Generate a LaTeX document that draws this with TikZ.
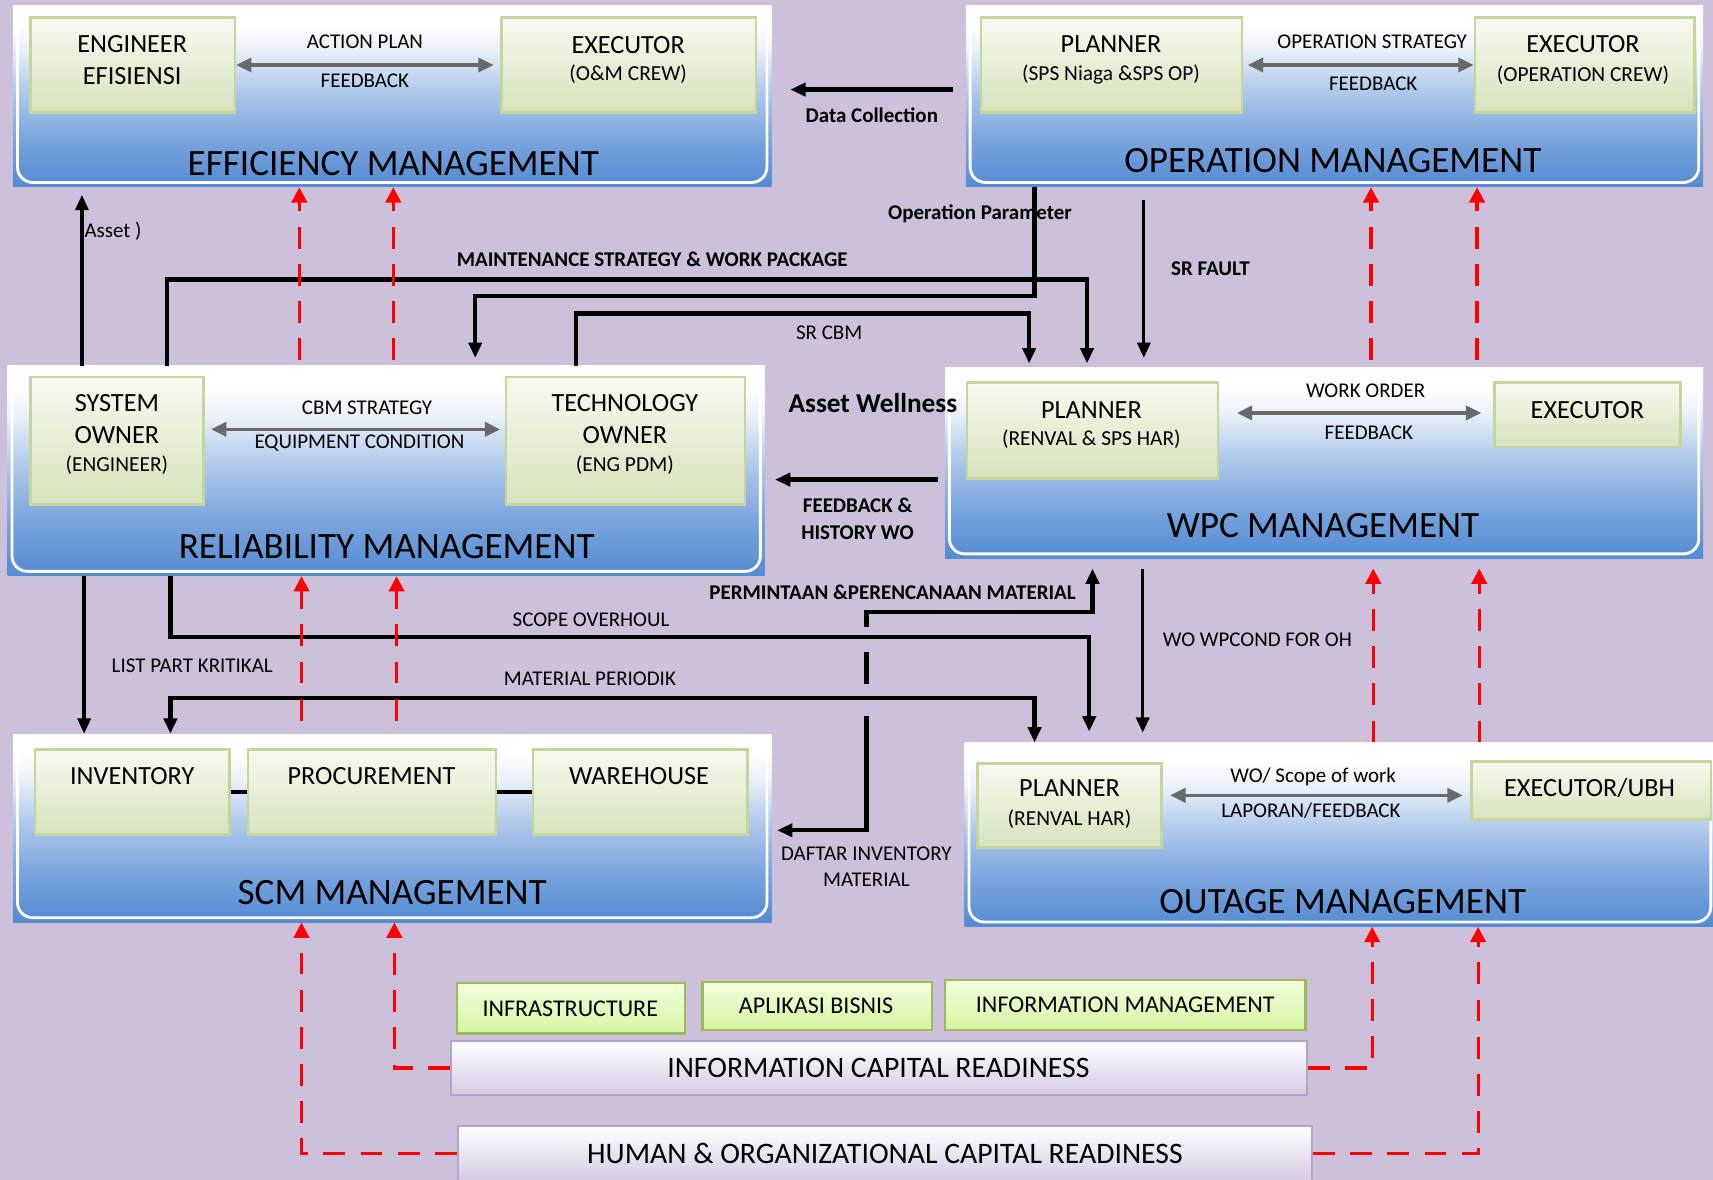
\documentclass[tikz,border=0pt]{standalone}
\usepackage{fontspec}
\setmainfont{Carlito}
\usetikzlibrary{arrows.meta,fit}

\definecolor{bg}{RGB}{204,192,218}
\definecolor{gblue}{RGB}{84,139,211}
\definecolor{gline}{RGB}{196,214,158}
\definecolor{gtop}{RGB}{247,250,240}
\definecolor{gbot}{RGB}{214,227,188}
\definecolor{lgtop}{RGB}{242,255,222}
\definecolor{lgbot}{RGB}{214,244,162}
\definecolor{lgline}{RGB}{155,187,89}
\definecolor{pbot}{RGB}{214,202,228}
\definecolor{pline}{RGB}{178,162,204}
\definecolor{arrgray}{RGB}{105,105,105}

\pgfdeclareverticalshading{grpshade}{100bp}{color(0bp)=(gblue); color(25bp)=(gblue); color(38bp)=(gblue!78!white); color(52bp)=(gblue!45!white); color(63bp)=(gblue!12!white); color(70bp)=(white); color(100bp)=(white)}

\newcommand{\subt}[1]{{\fontsize{9.8}{12}\selectfont #1}}

\tikzset{
  grp/.style={inner sep=0pt, shading=grpshade,
    path picture={\draw[white, line width=1.3pt, rounded corners=7pt]
      ([shift={(2pt,-2pt)}]path picture bounding box.north west) rectangle
      ([shift={(-2pt,2pt)}]path picture bounding box.south east);}},
  inbox/.style={inner sep=0pt, draw=gline, line width=1.2pt, top color=gtop, bottom color=gbot},
  lgbox/.style={inner sep=0pt, draw=lgline, line width=1pt, top color=lgtop, bottom color=lgbot},
  rbox/.style={inner sep=0pt, draw=pline, line width=1pt, top color=white, bottom color=pbot},
  itxt/.style={font=\fontsize{11}{13}\selectfont},
  rtxt/.style={font=\fontsize{13.6}{16}\selectfont},
  ttl/.style={font=\fontsize{17}{20}\selectfont},
  nm/.style={align=center, font=\fontsize{12}{14.5}\selectfont},
  lbl/.style={font=\fontsize{9.6}{12}\selectfont},
  lblb/.style={align=center, font=\bfseries\fontsize{9.6}{12}\selectfont},
  blk/.style={line width=2pt},
  mid/.style={line width=1.5pt, ->},
  rd/.style={red, line width=1.5pt, dash pattern=on 10pt off 7pt,
    >={Triangle[length=7pt,width=7pt]}, ->},
  gar/.style={arrgray, line width=1.5pt, >={Triangle[length=7pt,width=6.5pt]}, <->}
}

\begin{document}
\begin{tikzpicture}[x=0.5pt,y=-0.5pt,>={Triangle[length=7pt,width=6pt]}]
\useasboundingbox (0,0) rectangle (1568,1080);
\fill[bg] (0,0) rectangle (1568,1080);

% management blocks
\node[grp, fit={(12,5) (706,171)}] (eff) {};
\node[grp, fit={(884,5) (1559,171)}] (ops) {};
\node[grp, fit={(7,335) (700,527)}] (rel) {};
\node[grp, fit={(865,336) (1559,511)}] (wpc) {};
\node[grp, fit={(12,672) (706,844)}] (scm) {};
\node[grp, fit={(883,680) (1570,848)}] (out) {};

\node[ttl] (efft) at (360,150) {EFFICIENCY MANAGEMENT};
\node[ttl] (opst) at (1220,147) {OPERATION MANAGEMENT};
\node[ttl] (relt) at (354,500) {RELIABILITY MANAGEMENT};
\node[ttl] (wpct) at (1211,481) {WPC MANAGEMENT};
\node[ttl] (scmt) at (359,817) {SCM MANAGEMENT};
\node[ttl] (outt) at (1229,825) {OUTAGE MANAGEMENT};

% roles
\node[inbox, fit={(28,16) (215,103)}] (eng) {};
\node[inbox, fit={(459,16) (692,103)}] (oexe) {};
\node[inbox, fit={(898,16) (1137,103)}] (opl) {};
\node[inbox, fit={(1350,16) (1551,103)}] (oexc) {};
\node[inbox, fit={(28,345) (186,462)}] (sys) {};
\node[inbox, fit={(463,345) (682,462)}] (tec) {};
\node[inbox, fit={(885,350) (1115,438)}] (wpl) {};
\node[inbox, fit={(1368,350) (1538,409)}] (wex) {};
\node[inbox, fit={(32,686) (210,764)}] (inv) {};
\node[inbox, fit={(227,686) (454,764)}] (pro) {};
\node[inbox, fit={(488,686) (684,764)}] (wh) {};
\node[inbox, fit={(895,699) (1063,776)}] (opn) {};
\node[inbox, fit={(1347,697) (1566,750)}] (oux) {};

\node[nm] (engt) at (121,55) {ENGINEER\\EFISIENSI};
\node[nm] (oexet) at (575,55) {EXECUTOR\\[-2pt]\subt{(O\&M CREW)}};
\node[nm] (oplt) at (1017,55) {PLANNER\\[-2pt]\subt{(SPS Niaga \&SPS OP)}};
\node[nm] (oexct) at (1449,55) {EXECUTOR\\[-1.5pt]\subt{(OPERATION CREW)}};
\node[nm] (syst) at (107,398) {SYSTEM\\OWNER\\[-1.5pt]\subt{(ENGINEER)}};
\node[nm] (tect) at (572,398) {TECHNOLOGY\\OWNER\\[-1.5pt]\subt{(ENG PDM)}};
\node[nm] (wplt) at (999,389) {PLANNER\\[-2.5pt]\subt{(RENVAL \& SPS HAR)}};
\node[nm] (wext) at (1453,375) {EXECUTOR};
\node[nm] (invt) at (121,710) {INVENTORY};
\node[nm] (prot) at (340,710) {PROCUREMENT};
\node[nm] (wht) at (585,710) {WAREHOUSE};
\node[nm] (opnt) at (979,736) {PLANNER\\[-1pt]\subt{(RENVAL HAR)}};
\node[nm] (ouxt) at (1455,721) {EXECUTOR/UBH};

% inside the blocks
\draw[gar, shorten >=3pt] (eng) -- (oexe);
\node[lbl] (ap) at (334,38) {ACTION PLAN};
\node[lbl] (fb1) at (334,74) {FEEDBACK};
\draw[gar, shorten <=2pt] (opl) -- (oexc);
\node[lbl] (os) at (1256,38) {OPERATION STRATEGY};
\node[lbl] (fb2) at (1257,77) {FEEDBACK};
\draw[gar, shorten <=3pt, shorten >=2pt] (sys.east |- 0,393) -- (tec.west |- 0,393);
\node[lbl] (cs) at (336,373) {CBM STRATEGY};
\node[lbl] (ec) at (329,406) {EQUIPMENT CONDITION};
\draw[gar, shorten <=8pt, shorten >=5.5pt] (wpl.east |- 0,378) -- (wex.west |- 0,378);
\node[lbl] (wo1) at (1250,358) {WORK ORDER};
\node[lbl] (fb3) at (1253,396) {FEEDBACK};
\draw[gar, shorten <=3.5pt, shorten >=3.5pt] (opn.east |- 0,728) -- (oux.west |- 0,728);
\node[lbl] (sw) at (1202,711) {WO/ Scope of work};
\node[lbl] (lf) at (1200,742) {LAPORAN/FEEDBACK};
\draw[line width=1.5pt] (inv) -- (pro);
\draw[line width=1.5pt] (pro) -- (wh);

% readiness
\node[lgbox, fit={(418,900) (627,946)}] (infr) {};
\node[lgbox, fit={(643,899) (853,943)}] (apl) {};
\node[lgbox, fit={(865,897) (1195,943)}] (infm) {};
\node[rbox, fit={(413,953) (1196,1002)}] (icr) {};
\node[rbox, fit={(419,1031) (1201,1081)}] (hoc) {};
\node[itxt] (infrt) at (522,923) {INFRASTRUCTURE};
\node[itxt] (aplt) at (747,921) {APLIKASI BISNIS};
\node[itxt] (infmt) at (1030,920) {INFORMATION MANAGEMENT};
\node[rtxt] (icrt) at (804,978) {INFORMATION CAPITAL READINESS};
\node[rtxt] (hoct) at (810,1056) {HUMAN \& ORGANIZATIONAL CAPITAL READINESS};

% flows
\draw[blk, ->, shorten <=5.5pt, shorten >=8.5pt] (ops.west |- 0,82) -- (eff.east |- 0,82);
\node[lblb] (dc) at (798,105) {Data Collection};
\draw[mid, shorten >=3.5pt] (rel.north -| 75,0) -- (eff.south -| 75,0);
\node[lbl, anchor=west, inner sep=0pt] (as) at (77,212) {Asset )};
\node[lblb] (op) at (897,196) {Operation Parameter};
\draw[blk, ->, shorten >=3.5pt] (ops.south -| 947,0) |- (435,271) -- (rel.north -| 435,0);
\draw[blk, ->, shorten >=1.5pt] (rel.north -| 153,0) |- (995,256) -- (wpc.north -| 995,0);
\node[lblb] (ms) at (597,237) {MAINTENANCE STRATEGY \& WORK PACKAGE};
\draw[blk, ->, shorten >=1.5pt] (rel.north -| 527,0) |- (942,287) -- (wpc.north -| 942,0);
\node[lbl] (sc) at (759,305) {SR CBM};
\draw[mid, shorten <=6pt, shorten >=4pt] (ops.south -| 1047,0) -- (wpc.north -| 1047,0);
\node[lblb] (sf) at (1108,246) {SR FAULT};
\node[font=\bfseries\fontsize{12.5}{15}\selectfont] (aw) at (799,369) {Asset Wellness};
\draw[blk, ->, shorten <=3pt, shorten >=4.5pt] (wpc.west |- 0,439) -- (rel.east |- 0,439);
\node[lblb] (fh) at (785,475) {FEEDBACK \&\\HISTORY WO};
\draw[mid] (rel.south -| 77,0) -- (scm.north -| 77,0);
\node[lbl] (lp) at (176,609) {LIST PART KRITIKAL};
\draw[blk, <->, shorten <=2.5pt, shorten >=4.5pt] (scm.east |- 0,760) -| (793,560) -| (wpc.south -| 1000,0);
\fill[bg] (786,574) rectangle (800,597);
\fill[bg] (786,626) rectangle (800,655);
\node[lblb] (pm) at (817,542) {PERMINTAAN \&PERENCANAAN MATERIAL};
\node[lbl, align=center] (di) at (793,793) {DAFTAR INVENTORY\\MATERIAL};
\draw[blk, ->, shorten >=5pt] (rel.south -| 156,0) |- (997,583) -- (out.north -| 997,0);
\node[lbl] (so) at (541,567) {SCOPE OVERHOUL};
\draw[blk, <->] (scm.north -| 156,0) |- (947,639) -- (out.north -| 947,0);
\node[lbl] (mp) at (540,621) {MATERIAL PERIODIK};
\draw[mid, shorten <=4.5pt, shorten >=4.5pt] (wpc.south -| 1046,0) -- (out.north -| 1046,0);
\node[lbl, anchor=west, inner sep=0pt] (wo) at (1064,586) {WO WPCOND FOR OH};

% support (red)
\foreach \x in {274,360} \draw[rd, shorten <=2.5pt] (rel.north -| \x,0) -- (eff.south -| \x,0);
\foreach \x in {276,363} \draw[rd, shorten <=6pt] (scm.north -| \x,0) -- (rel.south -| \x,0);
\foreach \x in {1255,1352} \draw[rd, shorten <=3pt] (wpc.north -| \x,0) -- (ops.south -| \x,0);
\foreach \x in {1257,1354} \draw[rd, shorten >=4.5pt] (out.north -| \x,0) -- (wpc.south -| \x,0);
\draw[rd] (icr.west) -| (scm.south -| 361,0);
\draw[rd] (icr.east) -| (out.south -| 1256,0);
\draw[rd] (hoc.west) -| (scm.south -| 276,0);
\draw[rd] (hoc.east) -| (out.south -| 1353,0);
\end{tikzpicture}
\end{document}
